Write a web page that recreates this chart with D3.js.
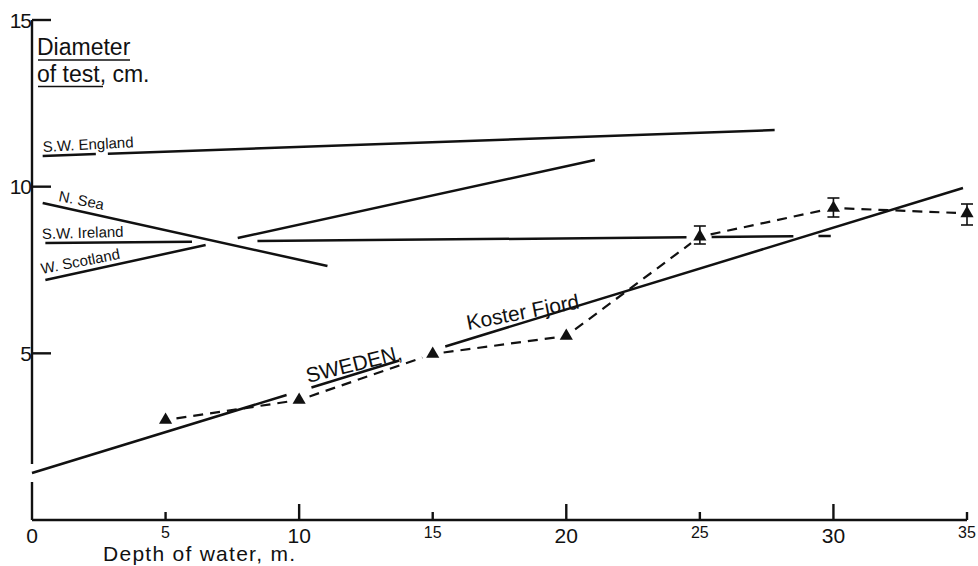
<!DOCTYPE html>
<html><head><meta charset="utf-8">
<script src="https://cdn.jsdelivr.net/npm/d3@7"></script>
<style>body{margin:0;background:#fff}svg{display:block}text{font-family:"Liberation Sans",Arial,Helvetica,sans-serif;fill:#111}</style>
</head><body><svg id="c" width="978" height="566"></svg>
<script>
// ---- data ----
const depthTicks = [0, 5, 10, 15, 20, 25, 30, 35];
const bigTicks = [0, 10, 20, 30];
const diamTicks = [5, 10, 15];

// regional trend lines (depth m, diameter cm)
const lineNames = ["S.W. England", "N. Sea", "S.W. Ireland", "W. Scotland", "Koster Fjord"];
const lineStart = [[0.4, 10.92], [0.4, 9.51], [0.5, 8.31], [0.5, 7.2], [0, 1.41]];
const lineEnd = [[27.8, 11.7], [11.06, 7.62], [29.9, 8.52], [21.07, 10.8], [34.85, 9.96]];
const lineSpans = [
  [[0.4, 2.39], [2.84, 27.8]],
  [[0.4, 11.06]],
  [[0.5, 5.99], [8.44, 24.5], [25.44, 28.5], [29.44, 29.9]],
  [[0.5, 6.5], [7.7, 21.07]],
  [[0, 9.53], [10.46, 13.75], [15.47, 34.85]]
];

// Sweden, Koster Fjord observations
const obsDepth = [5, 10, 15, 20, 25, 30, 35];
const obsDiam = [3.0, 3.6, 4.98, 5.52, 8.5, 9.36, 9.2];
const errDepth = [25, 30, 35];
const errLow = [8.28, 9.09, 8.85];
const errHigh = [8.82, 9.66, 9.48];

// ---- drawing ----
const svg = d3.select("#c");
const x = d3.scaleLinear().domain([0, 35]).range([32, 967]);
const y = d3.scaleLinear().domain([0, 15]).range([520, 20]);

// axes
const ax = svg.append("g").attr("stroke", "#111").attr("stroke-width", 2.4).attr("fill", "none");
ax.append("line").attr("x1", x(0)).attr("x2", x(35)).attr("y1", y(0)).attr("y2", y(0));
ax.append("line").attr("x1", x(0)).attr("x2", x(0)).attr("y1", y(15)).attr("y2", y(1.68));
ax.append("line").attr("x1", x(0)).attr("x2", x(0)).attr("y1", y(1.14)).attr("y2", y(0));
ax.selectAll(".yt").data(diamTicks).join("line")
  .attr("x1", x(0)).attr("x2", x(0) + 19).attr("y1", d => y(d)).attr("y2", d => y(d));
ax.selectAll(".xt").data(depthTicks.filter(d => d > 0)).join("line")
  .attr("x1", d => x(d)).attr("x2", d => x(d))
  .attr("y1", y(0)).attr("y2", d => y(0) - (bigTicks.includes(d) ? 16 : 8));

svg.selectAll(".xl").data(depthTicks).join("text")
  .attr("x", d => x(d)).attr("y", d => bigTicks.includes(d) ? 543 : 538)
  .attr("text-anchor", "middle")
  .attr("font-size", d => bigTicks.includes(d) ? 21 : 16)
  .text(d => d);
svg.selectAll(".yl").data(diamTicks).join("text")
  .attr("x", 31).attr("y", d => y(d) + 7.5).attr("text-anchor", "end")
  .attr("font-size", 21).attr("letter-spacing", -1).text(d => d);

svg.append("text").attr("x", 103).attr("y", 561).attr("font-size", 21)
  .attr("textLength", 192).attr("lengthAdjust", "spacing").text("Depth of water, m.");
svg.append("text").attr("x", 37).attr("y", 55).attr("font-size", 23).text("Diameter");
svg.append("text").attr("x", 37).attr("y", 82).attr("font-size", 23).text("of test, cm.");
svg.append("line").attr("x1", 38).attr("x2", 130).attr("y1", 60).attr("y2", 60).attr("stroke", "#111").attr("stroke-width", 1.6);
svg.append("line").attr("x1", 38).attr("x2", 103).attr("y1", 86.5).attr("y2", 86.5).attr("stroke", "#111").attr("stroke-width", 1.6);

// trend lines
const lg = svg.append("g").attr("stroke", "#111").attr("stroke-width", 2.5).attr("fill", "none").attr("stroke-linecap", "butt");
lineNames.forEach((name, i) => {
  const f = d3.scaleLinear().domain([lineStart[i][0], lineEnd[i][0]]).range([lineStart[i][1], lineEnd[i][1]]);
  lineSpans[i].forEach(s => {
    lg.append("line").attr("x1", x(s[0])).attr("y1", y(f(s[0])))
      .attr("x2", x(s[1])).attr("y2", y(f(s[1])));
  });
});

// dashed observation line with gaps at markers
const dg = svg.append("g").attr("stroke", "#111").attr("stroke-width", 2.2).attr("fill", "none").attr("stroke-dasharray", "10,7");
for (let i = 0; i < obsDepth.length - 1; i++) {
  const x1 = x(obsDepth[i]), y1 = y(obsDiam[i]), x2 = x(obsDepth[i + 1]), y2 = y(obsDiam[i + 1]);
  const L = Math.hypot(x2 - x1, y2 - y1), pad = 11;
  const ux = (x2 - x1) / L, uy = (y2 - y1) / L;
  dg.append("line").attr("x1", x1 + ux * pad).attr("y1", y1 + uy * pad)
    .attr("x2", x2 - ux * pad).attr("y2", y2 - uy * pad);
}

// error bars
const eg = svg.append("g").attr("stroke", "#111").attr("stroke-width", 1.6);
errDepth.forEach((d, i) => {
  eg.append("line").attr("x1", x(d)).attr("x2", x(d)).attr("y1", y(errLow[i])).attr("y2", y(errHigh[i]));
  [errLow[i], errHigh[i]].forEach(v => eg.append("line").attr("x1", x(d) - 6).attr("x2", x(d) + 6).attr("y1", y(v)).attr("y2", y(v)));
});

// triangles
svg.selectAll(".tri").data(obsDepth).join("path")
  .attr("d", d3.symbol(d3.symbolTriangle, 75))
  .attr("transform", (d, i) => `translate(${x(d)},${y(obsDiam[i])})`)
  .attr("fill", "#111");

// labels
const labels = [
  ["S.W. England", 43, 152, -3, 15],
  ["N. Sea", 58, 201, 11, 15],
  ["S.W. Ireland", 42, 239, -1.5, 15],
  ["W. Scotland", 42, 274, -11, 15],
  ["SWEDEN,", 308, 383, -14, 21],
  ["Koster Fjord", 468, 330, -11, 21]
];
svg.selectAll(".lab").data(labels).join("text")
  .attr("transform", d => `translate(${d[1]},${d[2]}) rotate(${d[3]})`)
  .attr("font-size", d => d[4]).text(d => d[0]);
</script></body></html>
